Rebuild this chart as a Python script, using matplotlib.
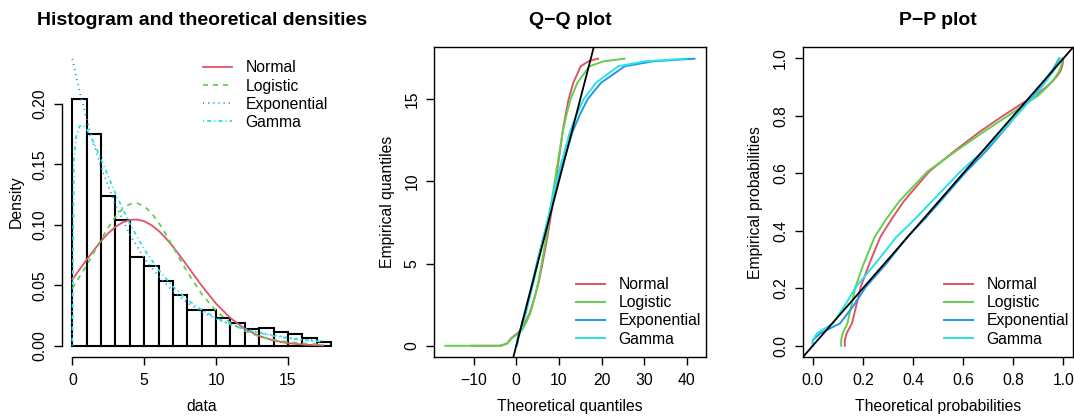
import matplotlib
matplotlib.use("Agg")
import matplotlib.pyplot as plt

# histogram of the data (bins of width 1 from 0 to 18)
BIN_LEFT = list(range(18))
HIST_DENS = [0.204, 0.175, 0.1235, 0.104, 0.0733, 0.0661, 0.0535, 0.0419, 0.0293,
             0.0293, 0.0231, 0.0188, 0.0138, 0.0144, 0.0111, 0.0099, 0.0066, 0.0028]

# theoretical densities
NORM_X = [0, 1, 2, 2.5, 3, 3.5, 4, 4.5, 5, 5.5, 6, 6.5, 7, 7.5, 8, 9, 10, 11, 12, 13, 14, 15, 16, 17, 17.46]
NORM_D = [0.0547, 0.0712, 0.0865, 0.0930, 0.0982, 0.1019, 0.1040, 0.1043, 0.1029, 0.0997, 0.0950,
          0.0890, 0.0819, 0.0741, 0.0660, 0.0496, 0.0348, 0.0228, 0.0140, 0.0080, 0.0043, 0.0021,
          0.0010, 0.0004, 0.0003]
LOGI_X = NORM_X
LOGI_D = [0.0474, 0.0666, 0.0878, 0.0978, 0.1066, 0.1132, 0.1171, 0.1178, 0.1153, 0.1098, 0.1019,
          0.0923, 0.0819, 0.0712, 0.0609, 0.0427, 0.0288, 0.0189, 0.0122, 0.0077, 0.0049, 0.0031,
          0.0019, 0.0012, 0.0010]
EXPO_X = [0, 0.5, 1, 1.5, 2, 3, 4, 5, 6, 7, 8, 9, 10, 11, 12, 13, 14, 15, 16, 17, 17.46]
EXPO_D = [0.2370, 0.2105, 0.1870, 0.1661, 0.1475, 0.1164, 0.0918, 0.0725, 0.0572, 0.0451, 0.0356,
          0.0281, 0.0222, 0.0175, 0.0138, 0.0109, 0.0086, 0.0068, 0.0053, 0.0042, 0.0038]
GAMM_X = [0, 0.1, 0.25, 0.5, 0.75, 1, 1.5, 2, 3, 4, 5, 6, 7, 8, 9, 10, 11, 12, 13, 14, 15, 16, 17, 17.46]
GAMM_D = [0.0, 0.1521, 0.1718, 0.1815, 0.1822, 0.1791, 0.1678, 0.1540, 0.1259, 0.1007, 0.0797,
          0.0626, 0.0489, 0.0381, 0.0296, 0.0229, 0.0177, 0.0137, 0.0106, 0.0081, 0.0063, 0.0048,
          0.0037, 0.0033]

# Q-Q plot: empirical quantiles vs theoretical quantiles
EMP_P = [0.00005, 0.019, 0.043, 0.078, 0.14, 0.204, 0.29, 0.379, 0.44, 0.5025, 0.6065, 0.68, 0.746,
         0.799, 0.841, 0.871, 0.9, 0.923, 0.942, 0.956, 0.97, 0.981, 0.991, 0.9976, 0.9995, 0.99995]
EMP_Q = [0, 0, 0.125, 0.487, 0.75, 1, 1.49, 2, 2.49, 3, 4, 5, 6, 7, 8, 9, 10, 11, 12, 13, 14, 15,
         16, 17, 17.3, 17.46]
QQ_NORM = [-10.52, -3.59, -2.22, -1.08, 0.21, 1.18, 2.23, 3.16, 3.76, 4.36, 5.37, 6.13, 6.87, 7.54,
           8.16, 8.66, 9.24, 9.79, 10.34, 10.86, 11.53, 12.27, 13.38, 15.11, 16.91, 19.20]
QQ_LOGI = [-16.63, -4.00, -2.22, -0.88, 0.51, 1.47, 2.46, 3.31, 3.85, 4.38, 5.28, 5.96, 6.64, 7.29,
           7.89, 8.41, 9.02, 9.63, 10.27, 10.89, 11.73, 12.72, 14.33, 17.14, 20.47, 25.35]
QQ_EXPO = [0.0002, 0.081, 0.185, 0.343, 0.636, 0.962, 1.445, 2.01, 2.446, 2.946, 3.935, 4.808, 5.782,
           6.77, 7.759, 8.641, 9.716, 10.82, 12.01, 13.18, 14.80, 16.72, 19.88, 25.45, 32.07, 41.79]
QQ_GAMM = [0.0009, 0.135, 0.281, 0.477, 0.813, 1.19, 1.713, 2.294, 2.728, 3.214, 4.155, 4.967, 5.864,
           6.764, 7.663, 8.457, 9.43, 10.43, 11.51, 12.56, 14.03, 15.79, 18.70, 23.91, 30.24, 39.85]

# P-P plot: empirical probabilities (EMP_P) vs theoretical probabilities
PP_NORM = [0.128, 0.128, 0.1349, 0.1566, 0.1737, 0.191, 0.2278, 0.270, 0.3141, 0.3629, 0.4645,
           0.5686, 0.668, 0.7569, 0.831, 0.8887, 0.9308, 0.9594, 0.9775, 0.9883, 0.9943, 0.9974,
           0.9989, 0.9995, 0.9996, 0.9997]
PP_LOGI = [0.1134, 0.1134, 0.1194, 0.1386, 0.154, 0.170, 0.2052, 0.2473, 0.2927, 0.3449, 0.4577,
           0.575, 0.6843, 0.7765, 0.8478, 0.8992, 0.9346, 0.9582, 0.9735, 0.9833, 0.9895, 0.9934,
           0.9959, 0.9974, 0.9977, 0.9979]
PP_EXPO = [0.0, 0.0, 0.0292, 0.109, 0.1629, 0.211, 0.2976, 0.3775, 0.4456, 0.5089, 0.6125, 0.6942,
           0.7588, 0.8097, 0.8498, 0.8815, 0.9065, 0.9263, 0.9418, 0.9541, 0.9638, 0.9714, 0.9775,
           0.9822, 0.9834, 0.9840]
PP_GAMM = [0.0, 0.0, 0.0169, 0.080, 0.128, 0.1717, 0.2533, 0.334, 0.4065, 0.475, 0.5894, 0.6824,
           0.754, 0.810, 0.8537, 0.8872, 0.9131, 0.933, 0.9485, 0.9602, 0.9698, 0.9761, 0.9817,
           0.9862, 0.9872, 0.9878]

NAMES = ["Normal", "Logistic", "Exponential", "Gamma"]
COLORS = ["#DF536B", "#61D04F", "#2297E6", "#28E2E5"]
DASHES = [None, (3.6, 3.6), (0.8, 2.9), (0.8, 2.2, 2.9, 2.2)]
FS = 11.3

plt.rcParams.update({
    "font.family": ["Liberation Sans", "DejaVu Sans"],
    "font.size": FS,
    "axes.linewidth": 1.0,
    "lines.scale_dashes": False,
    "xtick.direction": "out", "ytick.direction": "out",
    "xtick.major.size": 5.5, "ytick.major.size": 5.5,
    "xtick.major.width": 1.0, "ytick.major.width": 1.0,
    "xtick.major.pad": 6, "ytick.major.pad": 5,
    "xtick.labelsize": FS, "ytick.labelsize": FS,
})

fig = plt.figure(figsize=(10.74, 4.2), dpi=100)
ax1 = fig.add_axes([0.0577, 0.1495, 0.2602, 0.7398])
ax2 = fig.add_axes([0.4044, 0.1493, 0.2527, 0.7388])
ax3 = fig.add_axes([0.7474, 0.1493, 0.2520, 0.7388])


def r_style(ax, yticks, ylabels):
    ax.set_yticks(yticks)
    ax.set_yticklabels(ylabels, rotation=90, va="center")
    ax.tick_params(top=False, right=False)


def legend_at(ax, handles, x, y):
    ax.legend(handles=handles, labels=NAMES, loc="upper left", bbox_to_anchor=(x, y),
              bbox_transform=fig.transFigure, frameon=False, borderpad=0, borderaxespad=0,
              handlelength=1.85, handletextpad=0.85, labelspacing=0.2, fontsize=FS)


# --- histogram and densities ---
ax1.bar(BIN_LEFT, HIST_DENS, width=1, align="edge", facecolor="white",
        edgecolor="black", linewidth=1.5, zorder=1)
dens = [(NORM_X, NORM_D), (LOGI_X, LOGI_D), (EXPO_X, EXPO_D), (GAMM_X, GAMM_D)]
h1 = []
for (xs, ys), c, d in zip(dens, COLORS, DASHES):
    ln, = ax1.plot(xs, ys, color=c, lw=1.3, zorder=2)
    if d:
        ln.set_dashes(d)
    h1.append(ln)
ax1.set_xlim(-0.72, 18.72)
ax1.set_ylim(-0.0095, 0.2473)
ax1.set_xticks([0, 5, 10, 15])
r_style(ax1, [0, 0.05, 0.10, 0.15, 0.20], ["0.00", "0.05", "0.10", "0.15", "0.20"])
ax1.spines["top"].set_visible(False)
ax1.spines["right"].set_visible(False)
ax1.spines["left"].set_bounds(0, 0.20)
ax1.spines["bottom"].set_bounds(0, 15)
ax1.set_xlabel("data")
ax1.set_ylabel("Density")
ax1.xaxis.set_label_coords(0.5, -0.160)
ax1.xaxis.label.set_va("center")
ax1.yaxis.set_label_coords(-0.1646, 0.5)
ax1.yaxis.label.set_va("center")
legend_at(ax1, h1, 0.189, 0.856)

# --- Q-Q plot ---
h2 = []
for xs, c in zip([QQ_NORM, QQ_LOGI, QQ_EXPO, QQ_GAMM], COLORS):
    ln, = ax2.plot(xs, EMP_Q, color=c, lw=1.4)
    h2.append(ln)
ax2.axline((0, 0), slope=1, color="black", lw=1.3)
ax2.set_xlim(-19.2, 44.4)
ax2.set_ylim(-0.70, 18.17)
ax2.set_xticks([-10, 0, 10, 20, 30, 40])
r_style(ax2, [0, 5, 10, 15], ["0", "5", "10", "15"])
ax2.set_xlabel("Theoretical quantiles")
ax2.set_ylabel("Empirical quantiles")
ax2.xaxis.set_label_coords(0.5, -0.160)
ax2.xaxis.label.set_va("center")
ax2.yaxis.set_label_coords(-0.1732, 0.5)
ax2.yaxis.label.set_va("center")
legend_at(ax2, h2, 0.5363, 0.340)

# --- P-P plot ---
h3 = []
for xs, c in zip([PP_NORM, PP_LOGI, PP_EXPO, PP_GAMM], COLORS):
    ln, = ax3.plot(xs, EMP_P, color=c, lw=1.4)
    h3.append(ln)
ax3.axline((0, 0), slope=1, color="black", lw=1.3)
ax3.set_xlim(-0.04, 1.04)
ax3.set_ylim(-0.04, 1.04)
ticks = [0, 0.2, 0.4, 0.6, 0.8, 1.0]
tlab = ["0.0", "0.2", "0.4", "0.6", "0.8", "1.0"]
ax3.set_xticks(ticks)
ax3.set_xticklabels(tlab)
r_style(ax3, ticks, tlab)
ax3.set_xlabel("Theoretical probabilities")
ax3.set_ylabel("Empirical probabilities")
ax3.xaxis.set_label_coords(0.5, -0.160)
ax3.xaxis.label.set_va("center")
ax3.yaxis.set_label_coords(-0.176, 0.5)
ax3.yaxis.label.set_va("center")
legend_at(ax3, h3, 0.879, 0.340)

# titles
for ax, t in [(ax1, "Histogram and theoretical densities"), (ax2, "Q\u2212Q plot"), (ax3, "P\u2212P plot")]:
    b = ax.get_position()
    fig.text(b.x0 + b.width / 2, 1 - 20.7 / 420, t, ha="center", va="center",
             fontsize=14, fontweight="bold")

fig.savefig("out.png", dpi=100)
